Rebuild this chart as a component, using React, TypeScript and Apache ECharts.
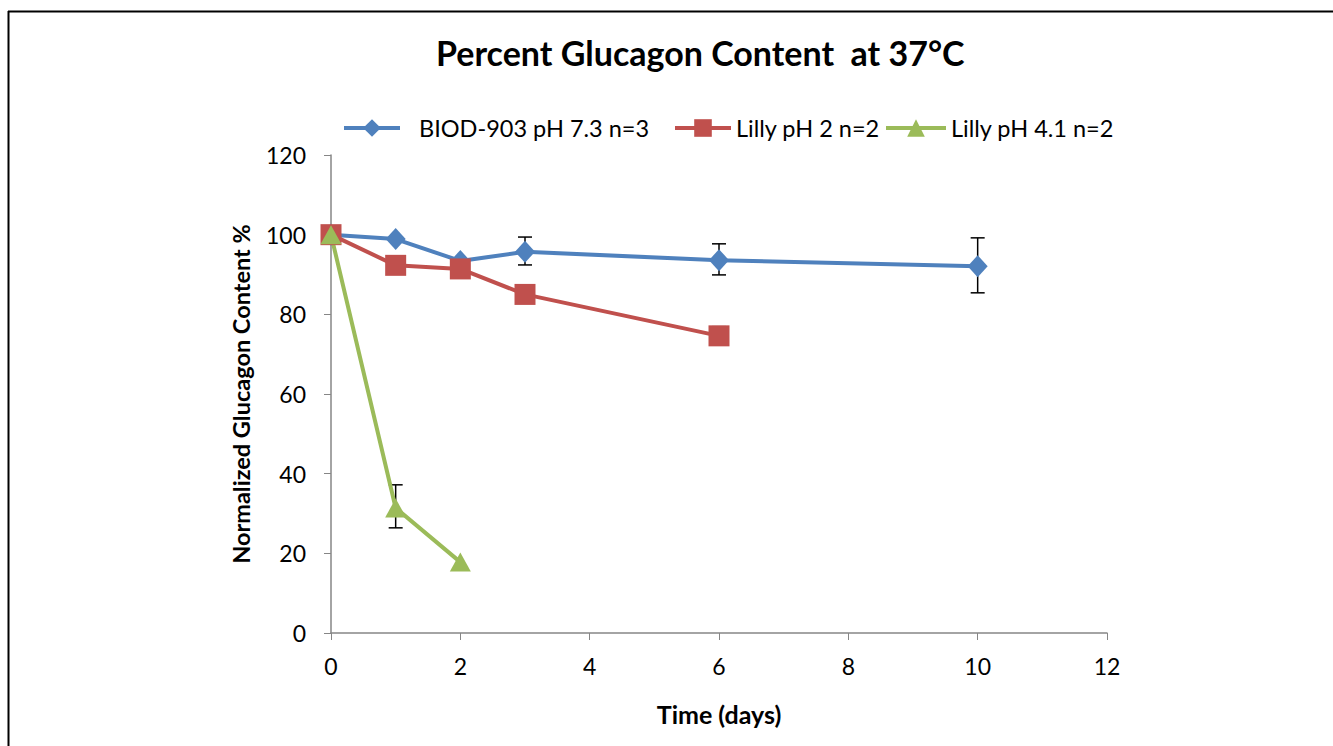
import React, { useEffect, useRef } from "react";
import * as echarts from "echarts";

const days = [0, 1, 2, 3, 6, 10];
const biodValues = [100, 98.9, 93.4, 95.7, 93.6, 92.1];
const biodErrLow = [null, null, null, 92.4, 89.9, 85.4];
const biodErrHigh = [null, null, null, 99.4, 97.7, 99.2];

const lilly2Days = [0, 1, 2, 3, 6];
const lilly2Values = [100, 92.3, 91.4, 85.0, 74.6];
const lilly2ErrLow = [null, null, null, null, 74.0];
const lilly2ErrHigh = [null, null, null, null, 76.9];

const lilly41Days = [0, 1, 2];
const lilly41Values = [100, 31.4, 17.8];
const lilly41ErrLow = [null, 26.4, null];
const lilly41ErrHigh = [null, 37.2, null];

const seriesNames = ["BIOD-903 pH 7.3 n=3", "Lilly pH 2 n=2", "Lilly pH 4.1 n=2"];
const colors = ["#4F81BD", "#C0504D", "#9BBB59"];

const FONT = "Lato, 'Open Sans', sans-serif";

function errData(xs: number[], lo: (number | null)[], hi: (number | null)[]) {
  const out: number[][] = [];
  xs.forEach((x, i) => {
    if (lo[i] != null && hi[i] != null) out.push([x, lo[i] as number, hi[i] as number]);
  });
  return out;
}

function errSeries(data: number[][]) {
  return {
    type: "custom",
    z: 1,
    silent: true,
    renderItem: (params: any, api: any) => {
      const x = api.value(0);
      const lo = api.coord([x, api.value(1)]);
      const hi = api.coord([x, api.value(2)]);
      const w = 7;
      const style = { stroke: "#000", lineWidth: 1.5 };
      return {
        type: "group",
        children: [
          { type: "line", shape: { x1: lo[0], y1: lo[1], x2: hi[0], y2: hi[1] }, style },
          { type: "line", shape: { x1: lo[0] - w, y1: lo[1], x2: lo[0] + w, y2: lo[1] }, style },
          { type: "line", shape: { x1: hi[0] - w, y1: hi[1], x2: hi[0] + w, y2: hi[1] }, style },
        ],
      };
    },
    encode: { x: 0, y: [1, 2] },
    data,
  };
}

function legendFor(name: string, left: number, itemWidth: number, textPad: number) {
  return {
    top: 111,
    left,
    itemWidth,
    itemHeight: 22,
    lineStyle: { width: 4 },
    textStyle: { fontFamily: FONT, fontSize: 23.5, color: "#000", padding: [0, 0, 0, textPad] },
    data: [name],
  };
}

export default function App() {
  const ref = useRef<HTMLDivElement>(null);
  useEffect(() => {
    const chart = echarts.init(ref.current!, null, { renderer: "svg" });
    chart.setOption({
      animation: false,
      backgroundColor: "#fff",
      title: {
        text: "Percent Glucagon Content  at 37°C",
        left: 431,
        top: 30,
        textStyle: { fontFamily: FONT, fontWeight: "bold", fontSize: 34, color: "#000" },
      },
      legend: [
        legendFor(seriesNames[0], 337, 56, 14),
        legendFor(seriesNames[1], 668, 56, 0),
        legendFor(seriesNames[2], 879, 60, 0),
      ],
      graphic: [
        { type: "line", shape: { x1: 8.5, y1: 11, x2: 8.5, y2: 746 }, style: { stroke: "#000", lineWidth: 2 } },
        { type: "line", shape: { x1: 8, y1: 11.5, x2: 1333, y2: 11.5 }, style: { stroke: "#000", lineWidth: 2 } },
      ],
      grid: { left: 331, right: 226, top: 155, bottom: 113, containLabel: false },
      xAxis: {
        type: "value",
        min: 0,
        max: 12,
        interval: 2,
        name: "Time (days)",
        nameLocation: "middle",
        nameGap: 68,
        nameTextStyle: { fontFamily: FONT, fontWeight: "bold", fontSize: 25, color: "#000" },
        axisLine: { lineStyle: { color: "#868686", width: 1.5 } },
        axisTick: { inside: false, length: 7, lineStyle: { color: "#868686" } },
        axisLabel: { fontFamily: FONT, fontSize: 23, color: "#000", margin: 21 },
        splitLine: { show: false },
      },
      yAxis: {
        type: "value",
        min: 0,
        max: 120,
        interval: 20,
        name: "Normalized Glucagon Content %",
        nameLocation: "middle",
        nameGap: 78,
        nameTextStyle: { fontFamily: FONT, fontWeight: "bold", fontSize: 23.5, color: "#000" },
        axisLine: { show: true, lineStyle: { color: "#868686", width: 1.5 } },
        axisTick: { show: true, length: 7, lineStyle: { color: "#868686" } },
        axisLabel: { fontFamily: FONT, fontSize: 23, color: "#000", margin: 25 },
        splitLine: { show: false },
      },
      series: [
        errSeries(errData(days, biodErrLow, biodErrHigh)),
        errSeries(errData(lilly2Days, lilly2ErrLow, lilly2ErrHigh)),
        errSeries(errData(lilly41Days, lilly41ErrLow, lilly41ErrHigh)),
        {
          name: seriesNames[0],
          type: "line",
          z: 3,
          data: days.map((d, i) => [d, biodValues[i]]),
          symbol: "diamond",
          symbolSize: [20, 22],
          lineStyle: { color: colors[0], width: 4 },
          itemStyle: { color: colors[0] },
        },
        {
          name: seriesNames[1],
          type: "line",
          z: 3,
          data: lilly2Days.map((d, i) => [d, lilly2Values[i]]),
          symbol: "rect",
          symbolSize: 21,
          lineStyle: { color: colors[1], width: 4 },
          itemStyle: { color: colors[1] },
        },
        {
          name: seriesNames[2],
          type: "line",
          z: 3,
          data: lilly41Days.map((d, i) => [d, lilly41Values[i]]),
          symbol: "triangle",
          symbolSize: [21, 19],
          lineStyle: { color: colors[2], width: 4 },
          itemStyle: { color: colors[2] },
        },
      ],
    });
    return () => chart.dispose();
  }, []);
  return (
    <div
      ref={ref}
      style={{ position: "fixed", left: 0, top: 0, width: 1333, height: 746 }}
    />
  );
}
